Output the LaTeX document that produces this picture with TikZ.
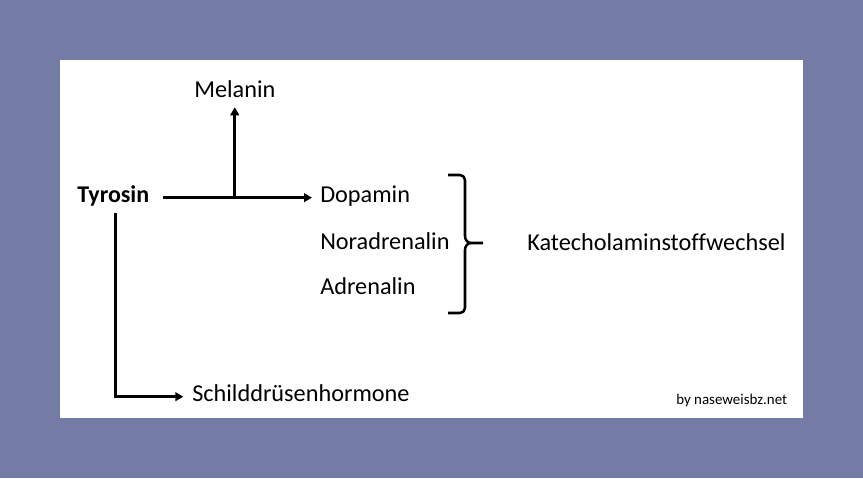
\documentclass[tikz,border=0pt]{standalone}
\usepackage{fontspec}
\setmainfont{Carlito}[Ligatures=NoCommon]
\usetikzlibrary{arrows.meta,calc}
\definecolor{bgframe}{HTML}{747BA4}
\tikzset{
  lbl/.style={anchor=base west,inner sep=0pt,text height=0.65em,text depth=0pt,font=\fontsize{18.2}{21}\selectfont},
  credit/.style={anchor=base west,inner sep=0pt,font=\fontsize{11.2}{13}\selectfont},
  conn/.style={line width=1.9pt},
  arr/.style={conn,-{Triangle[length=6pt,width=6.5pt]}},
}
\begin{document}
\begin{tikzpicture}[x=0.75pt,y=-0.75pt]
\fill[bgframe] (0,0) rectangle (863,478);
\fill[white] (60,60) rectangle (803,418);
\useasboundingbox (0,0) rectangle (863,478);
\node[lbl,font=\fontsize{18}{21}\selectfont\bfseries] (tyr) at (77,202) {Tyrosin};
\node[lbl] (mel) at (194,97) {Melanin};
\node[lbl] (dop) at (320,202) {Dopamin};
\node[lbl] (nor) at (320,249) {Noradrenalin};
\node[lbl] (adr) at (320,294) {Adrenalin};
\node[lbl] (kat) at (527,250) {Katecholaminstoffwechsel};
\node[lbl] (sch) at (192,401) {Schilddrüsenhormone};
\node[credit] (by) at (676,404) {by naseweisbz.net};
\draw[arr,shorten <=10pt,shorten >=6pt] (tyr.east) -- (dop.west);
\coordinate (j) at ($(tyr.east)!0.5!(dop.west)$);
\draw[arr,shorten >=7.5pt] (j) -- (j |- mel.south);
\draw[arr,shorten >=6.5pt] ([xshift=1.5pt,yshift=-8.25pt]tyr.south) |- (sch.west);
% brace
\draw[conn,line join=round]
  (448,175) -- (460,175) to[out=0,in=90] (465,180) -- (465,236)
  to[out=-90,in=180] (471,243) -- (483,243);
\draw[conn,line join=round]
  (471,243) to[out=180,in=90] (465,250) -- (465,308)
  to[out=-90,in=0] (460,313) -- (448,313);
\end{tikzpicture}
\end{document}
